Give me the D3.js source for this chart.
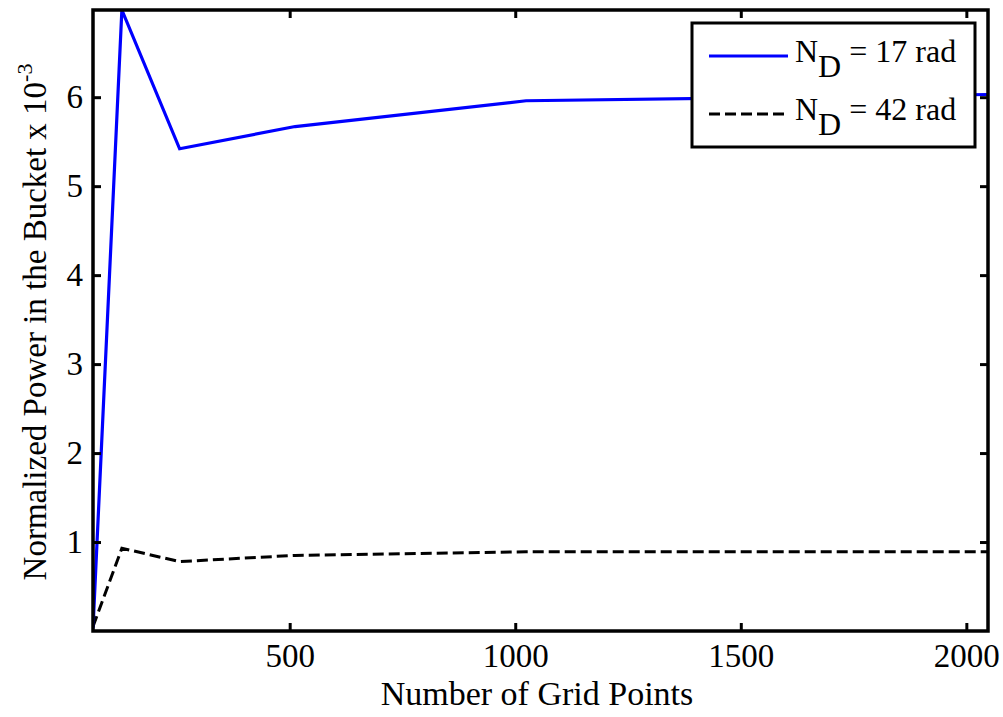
<!DOCTYPE html>
<html><head><meta charset="utf-8">
<script src="https://cdn.jsdelivr.net/npm/d3@7"></script>
<style>body{margin:0;background:#fff}svg{display:block}text{font-family:"Liberation Serif","Times New Roman",serif}</style>
</head><body>
<svg id="c" width="1003" height="717"></svg>
<script>
const gridPoints = [64, 128, 256, 512, 1024, 2048];
const nd17 = [0.03, 6.98, 5.42, 5.67, 5.96, 6.03];
const nd42 = [0.05, 0.93, 0.78, 0.85, 0.89, 0.89];
const xTicks = [500, 1000, 1500, 2000];
const yTicks = [1, 2, 3, 4, 5, 6];
const seriesNames = ["17", "42"];

const svg = d3.select("#c");
const m = {l: 93, r: 988, t: 10, b: 631};
const x = d3.scaleLinear().domain([64, 2048]).range([m.l, m.r]);
const y = d3.scaleLinear().domain([0, 6.98]).range([m.b, m.t]);

svg.append("clipPath").attr("id","cp").append("rect")
  .attr("x", m.l).attr("y", m.t).attr("width", m.r-m.l).attr("height", m.b-m.t);

const line = d3.line().x((d,i)=>x(gridPoints[i])).y(d=>y(d));
const g = svg.append("g").attr("clip-path","url(#cp)");
g.append("path").datum(nd42).attr("d", line).attr("fill","none")
  .attr("stroke","#000").attr("stroke-width",3).attr("stroke-dasharray","11,5");
g.append("path").datum(nd17).attr("d", line).attr("fill","none")
  .attr("stroke","#0000ff").attr("stroke-width",3.2);

const fs = 33;
const xb = svg.append("g").attr("transform",`translate(0,${m.b})`)
  .call(d3.axisBottom(x).tickValues(xTicks).tickSize(-8).tickPadding(13).tickFormat(d3.format("d")));
const xt = svg.append("g").attr("transform",`translate(0,${m.t})`)
  .call(d3.axisTop(x).tickValues(xTicks).tickSize(-8).tickFormat(""));
const yl = svg.append("g").attr("transform",`translate(${m.l},0)`)
  .call(d3.axisLeft(y).tickValues(yTicks).tickSize(-8).tickPadding(10).tickFormat(d3.format("d")));
const yr = svg.append("g").attr("transform",`translate(${m.r},0)`)
  .call(d3.axisRight(y).tickValues(yTicks).tickSize(-8).tickFormat(""));
[xb,xt,yl,yr].forEach(a=>{
  a.select(".domain").remove();
  a.selectAll(".tick line").attr("stroke","#000").attr("stroke-width",3);
  a.selectAll("text").attr("font-size",fs).attr("font-family","Liberation Serif").attr("fill","#000");
});
svg.append("rect").attr("x",m.l).attr("y",m.t).attr("width",m.r-m.l).attr("height",m.b-m.t)
  .attr("fill","none").attr("stroke","#000").attr("stroke-width",3.5);

svg.append("text").attr("x",537).attr("y",705).attr("text-anchor","middle")
  .attr("font-size",34).text("Number of Grid Points");
const ylab = svg.append("text").attr("transform",`translate(46,${322}) rotate(-90)`)
  .attr("text-anchor","middle").attr("font-size",fs);
ylab.append("tspan").text("Normalized Power in the Bucket x 10");
ylab.append("tspan").attr("dy",-14).attr("font-size",22).text("-3");

const lg = svg.append("g");
lg.append("rect").attr("x",692).attr("y",23).attr("width",283).attr("height",124)
  .attr("fill","#fff").attr("stroke","#000").attr("stroke-width",3);
const rows = [{name:seriesNames[0], color:"#0000ff", dash:null, y:56},
              {name:seriesNames[1], color:"#000", dash:"11,5", y:114}];
const lfs = 32;
rows.forEach(r=>{
  lg.append("line").attr("x1",709).attr("x2",788).attr("y1",r.y).attr("y2",r.y)
    .attr("stroke",r.color).attr("stroke-width",3).attr("stroke-dasharray",r.dash);
  const t = lg.append("text").attr("x",795).attr("y",r.y+6).attr("font-size",lfs);
  t.append("tspan").text("N");
  t.append("tspan").attr("dy",15).attr("font-size",lfs).text("D");
  t.append("tspan").attr("dy",-15).text(" = " + r.name + " rad");
});
</script>
</body></html>
